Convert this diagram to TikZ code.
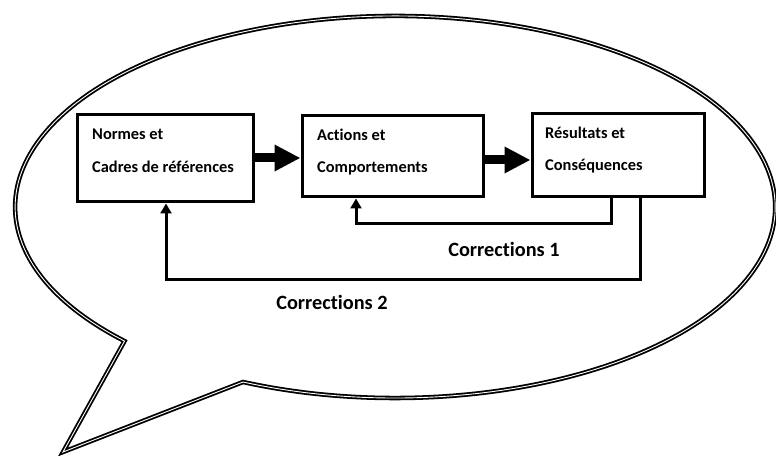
\documentclass[tikz,border=0pt]{standalone}
\usepackage{fontspec}
\setmainfont[Ligatures=NoCommon]{Carlito}
\usetikzlibrary{arrows.meta}
\begin{document}
\begin{tikzpicture}[x=1pt,y=1pt,
  bubble/.style={draw=black, double=white, line width=1.8pt, double distance=0.9pt, line join=miter},
  box/.style={draw=black, line width=3pt, fill=white, inner sep=0pt},
  boxtext/.style={anchor=west, inner sep=0pt, font=\bfseries\fontsize{16.4}{19}\selectfont},
  corrtext/.style={inner sep=0pt, font=\bfseries\fontsize{20.3}{24}\selectfont},
  bigarrow/.style={line width=9pt, -{Triangle[length=26pt, width=25pt]}},
  fb/.style={line width=3pt, line join=miter, -{Triangle[length=10pt, width=11pt]}}]
\useasboundingbox (0,0) rectangle (776,455);
\fill[white] (0,0) rectangle (776,455);

% speech bubble: elliptic outline with a tail at the lower left
\coordinate (tailR) at (243,73);
\coordinate (tailTip) at (63,3);
\draw[bubble] (tailR) arc[x radius=380, y radius=191, start angle=246.4, end angle=584.6]
  -- (tailTip) -- cycle;

% the three stages
\node[box, minimum width=176pt, minimum height=87pt] (box1) at (165,296.5) {};
\node[box, minimum width=181pt, minimum height=81pt] (box2) at (392.5,298.5) {};
\node[box, minimum width=172pt, minimum height=83pt] (box3) at (618,299.5) {};

\node[boxtext] (t1a) at (92,321) {Normes et};
\node[boxtext] (t1b) at (92,288) {Cadres de références};
\node[boxtext] (t2a) at (317,320) {Actions et};
\node[boxtext] (t2b) at (317,287) {Comportements};
\node[boxtext] (t3a) at (545,322) {Résultats et};
\node[boxtext] (t3b) at (545,289) {Conséquences};

% main flow
\draw[bigarrow] (box1.east |- 0,297) -- (box2.west |- 0,297);
\draw[bigarrow] (box2.east |- 0,295) -- (box3.west |- 0,295);

% feedback loops
\coordinate (c1r) at (611,231);
\coordinate (c1l) at (356,231);
\coordinate (c2r) at (640,175);
\coordinate (c2l) at (166,175);
\draw[fb] (box3.south -| c1r) -- (c1r) -- (c1l) -- (box2.south -| c1l);
\draw[fb] (box3.south -| c2r) -- (c2r) -- (c2l) -- (box1.south -| c2l);

\node[corrtext] (corr1) at (504,206) {Corrections 1};
\node[corrtext] (corr2) at (332,153) {Corrections 2};
\end{tikzpicture}
\end{document}
